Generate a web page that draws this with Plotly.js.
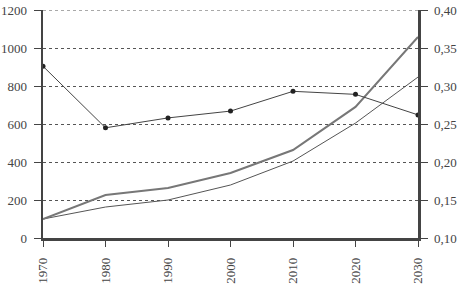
<!DOCTYPE html>
<html>
<head>
<meta charset="utf-8">
<script src="https://cdn.plot.ly/plotly-3.0.1.min.js"></script>
<style>html,body{margin:0;padding:0;background:#fff}#chart{width:459px;height:295px}</style>
</head>
<body>
<div id="chart"></div>
<script>
var years = [1970, 1980, 1990, 2000, 2010, 2020, 2030];
var seriesThick = [100, 226, 263, 342, 463, 690, 1058];
var seriesThin = [100, 163, 200, 279, 405, 605, 847];
var seriesRatio = [0.326, 0.245, 0.258, 0.267, 0.293, 0.289, 0.262];
var leftTicks = [0, 200, 400, 600, 800, 1000, 1200];
var rightTicks = [0.10, 0.15, 0.20, 0.25, 0.30, 0.35, 0.40];
var rightTickText = ['0,10', '0,15', '0,20', '0,25', '0,30', '0,35', '0,40'];

var font = {family: '"Liberation Serif", "DejaVu Serif", serif', size: 13, color: '#444'};
var traces = [
  {x: years, y: seriesThin, type: 'scatter', mode: 'lines', line: {color: '#555', width: 1}, hoverinfo: 'none'},
  {x: years, y: seriesThick, type: 'scatter', mode: 'lines', line: {color: '#777', width: 2}, hoverinfo: 'none'},
  {x: years, y: seriesRatio, yaxis: 'y2', type: 'scatter', mode: 'lines+markers', line: {color: '#444', width: 1}, marker: {color: '#222', size: 5}, hoverinfo: 'none'}
];
var layout = {
  width: 459, height: 295,
  margin: {l: 43, r: 41, t: 10, b: 57},
  showlegend: false,
  paper_bgcolor: '#fff', plot_bgcolor: '#fff',
  font: font,
  shapes: [{type: 'line', xref: 'paper', x0: 0, x1: 1, yref: 'y', y0: 1200, y1: 1200, line: {color: '#555', width: 1, dash: 'dot'}, layer: 'below'}],
  xaxis: {
    range: [1970, 2030], tickvals: years, ticktext: years.map(String), tickangle: -90,
    ticks: 'outside', ticklen: 6, tickcolor: '#444', showgrid: false, zeroline: false,
    showline: true, linecolor: '#444', linewidth: 2.5, tickfont: font, ticklabelstandoff: 6
  },
  yaxis: {
    range: [0, 1200], tickvals: leftTicks, ticks: 'outside', ticklen: 7, tickcolor: '#444',
    showgrid: true, gridcolor: '#555', griddash: 'dot', gridwidth: 1, zeroline: false,
    showline: true, linecolor: '#444', linewidth: 2.5, tickfont: font, ticklabelstandoff: 4
  },
  yaxis2: {
    overlaying: 'y', side: 'right', range: [0.10, 0.40], tickvals: rightTicks, ticktext: rightTickText,
    ticks: 'outside', ticklen: 7, tickcolor: '#444', showgrid: false, zeroline: false,
    showline: true, linecolor: '#444', linewidth: 2.5, tickfont: font, ticklabelstandoff: 4
  }
};
Plotly.newPlot('chart', traces, layout, {staticPlot: true, displayModeBar: false});
</script>
</body>
</html>
